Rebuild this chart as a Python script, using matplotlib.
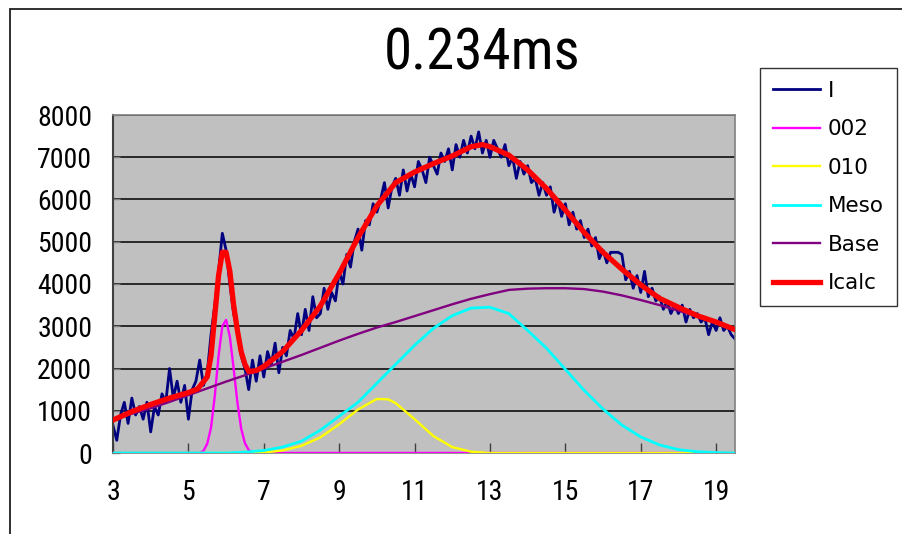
import matplotlib
matplotlib.use("Agg")
import matplotlib.pyplot as plt
from matplotlib import font_manager
from matplotlib.font_manager import FontProperties
from matplotlib.patches import Rectangle


# measured intensity I (step 0.1 from 3.0 to 19.5)
I_X = [round(3.0 + 0.1 * i, 1) for i in range(166)]
I_Y = [
    650, 300, 900, 1200, 700, 1300, 900, 1100, 800, 1200,
    500, 1100, 900, 1400, 1200, 2000, 1300, 1700, 1200, 1600,
    800, 1500, 1700, 2200, 1600, 1900, 2800, 3500, 4300, 5200,
    4800, 4000, 3300, 2900, 2300, 2000, 1500, 2200, 1700, 2300,
    1800, 2400, 2100, 2600, 1900, 2500, 2300, 2900, 2700, 3300,
    2800, 3400, 2900, 3700, 3200, 3300, 3900, 3400, 3800, 3600,
    4300, 4000, 4700, 4400, 5000, 5300, 4800, 5500, 5400, 5900,
    5700, 6000, 6400, 5800, 6300, 6500, 6100, 6700, 6200, 6600,
    6300, 6900, 6700, 6400, 7000, 6800, 6600, 7100, 6900, 7200,
    6700, 7300, 7000, 7400, 7100, 7500, 7200, 7600, 7100, 7400,
    7000, 7400, 7200, 7000, 7300, 6800, 7000, 6500, 6900, 6600,
    6800, 6400, 6500, 6100, 6400, 6100, 6300, 5700, 6000, 5600,
    5900, 5400, 5700, 5300, 5500, 5100, 5300, 4900, 5100, 4600,
    4800, 4500, 4750, 4750, 4750, 4700, 4100, 4300, 3900, 4200,
    3800, 4300, 3700, 3900, 3600, 3700, 3400, 3600, 3300, 3500,
    3300, 3500, 3100, 3400, 3200, 3300, 3100, 3200, 2800, 3100,
    2900, 3200, 2900, 3000, 2800, 2700,
]

# 002 peak
P002_X = [3.0, 5.3, 5.4, 5.5, 5.6, 5.7, 5.8, 5.9, 6.0, 6.1, 6.2, 6.3, 6.4,
          6.5, 6.6, 6.7, 6.8, 19.5]
P002_Y = [0, 0, 50, 220, 600, 1350, 2300, 3000, 3150, 2750, 2000, 1200, 580,
          230, 70, 10, 0, 0]

# 010 peak
P010_X = [3.0, 6.5, 7.0, 7.5, 8.0, 8.5, 9.0, 9.5, 10.0, 10.3, 10.5, 11.0,
          11.5, 12.0, 12.5, 13.0, 19.5]
P010_Y = [0, 0, 10, 60, 170, 370, 680, 1030, 1280, 1270, 1180, 800,
          400, 140, 30, 0, 0]

# mesophase
MESO_X = [3.0, 6.0, 6.5, 7.0, 7.5, 8.0, 8.5, 9.0, 9.5, 10.0, 10.5, 11.0,
          11.5, 12.0, 12.5, 13.0, 13.5, 14.0, 14.5, 15.0, 15.5, 16.0, 16.5,
          17.0, 17.5, 18.0, 18.5, 19.0, 19.5]
MESO_Y = [0, 0, 20, 60, 140, 280, 540, 870, 1200, 1650, 2100, 2550,
          2950, 3250, 3430, 3450, 3300, 2900, 2480, 1980, 1480, 1040, 660,
          380, 190, 80, 30, 10, 0]

# baseline
BASE_X = [3.0, 3.5, 4.0, 4.5, 5.0, 5.5, 6.0, 6.5, 7.0, 7.5, 8.0, 8.5, 9.0,
          9.5, 10.0, 10.5, 11.0, 11.5, 12.0, 12.5, 13.0, 13.5, 14.0, 14.5,
          15.0, 15.5, 16.0, 16.5, 17.0, 17.5, 18.0, 18.5, 19.0, 19.5]
BASE_Y = [780, 930, 1060, 1210, 1370, 1530, 1690, 1840, 2000, 2160, 2320,
          2490, 2660, 2820, 2970, 3100, 3240, 3380, 3520, 3650, 3760, 3860,
          3890, 3900, 3900, 3880, 3820, 3730, 3620, 3500, 3370, 3230, 3080,
          2910]

# fitted sum Icalc
CALC_X = [3.0, 3.5, 4.0, 4.5, 5.0, 5.25, 5.5, 5.6, 5.7, 5.8, 5.9, 6.0, 6.1,
          6.2, 6.3, 6.4, 6.5, 6.6, 6.8, 7.0, 7.5, 8.0, 8.5, 9.0, 9.5, 10.0,
          10.5, 11.0, 11.5, 12.0, 12.5, 12.8, 13.0, 13.5, 14.0, 14.5, 15.0,
          15.5, 16.0, 16.5, 17.0, 17.5, 18.0, 18.5, 19.0, 19.5]
CALC_Y = [780, 980, 1150, 1300, 1430, 1520, 1800, 2300, 3250, 4200, 4750,
          4750, 4300, 3500, 2900, 2400, 2100, 1930, 1950, 2050, 2400, 2900,
          3480, 4250, 5100, 5850, 6400, 6650, 6850, 7030, 7250, 7300, 7250,
          7050, 6700, 6260, 5750, 5220, 4750, 4350, 3980, 3660, 3450, 3250,
          3100, 2920]

X_TICKS = [3, 5, 7, 9, 11, 13, 15, 17, 19]
Y_TICKS = [0, 1000, 2000, 3000, 4000, 5000, 6000, 7000, 8000]


def find_narrow_font():
    # any condensed / narrow sans face that is installed
    best = None
    for f in font_manager.fontManager.ttflist:
        narrow = ("Narrow" in f.name or "Condensed" in f.name
                  or "ondensed" in str(f.stretch) or "Condensed" in f.fname)
        if not narrow or f.style != "normal":
            continue
        if str(f.weight) not in ("400", "normal", "regular", "book"):
            continue
        if "Mono" in f.name or "Serif" in f.name:
            continue
        best = f
        if "Liberation" in f.name:
            break
    return best


nf = find_narrow_font()
if nf is not None:
    NARROW = dict(fontproperties=FontProperties(fname=nf.fname, size=20))
    TITLE = FontProperties(fname=nf.fname, size=41)
else:
    NARROW = dict(fontproperties=FontProperties(family="DejaVu Sans", size=16))
    TITLE = FontProperties(family="DejaVu Sans", size=32)

W, H = 902, 534
fig = plt.figure(figsize=(W / 100, H / 100), dpi=100)
fig.patch.set_facecolor("white")

# outer chart frame, cut at right and bottom
fig.add_artist(Rectangle((10 / W, -0.1), 1.2, 1 - 9 / H + 0.1,
                         transform=fig.transFigure, fill=False,
                         edgecolor="#202020", linewidth=1.3))

ax = fig.add_axes([113 / W, 1 - 453 / H, (735 - 113) / W, (453 - 115) / H])
ax.set_facecolor("#C0C0C0")

for y in Y_TICKS[1:]:
    ax.axhline(y, color="black", linewidth=1.1, zorder=1)

ax.plot(I_X, I_Y, color="#000080", linewidth=2.0, label="I", zorder=2)
ax.plot(P002_X, P002_Y, color="#FF00FF", linewidth=1.7, label="002", zorder=3)
ax.plot(P010_X, P010_Y, color="#FFFF00", linewidth=1.7, label="010", zorder=3)
ax.plot(MESO_X, MESO_Y, color="#00FFFF", linewidth=2.0, label="Meso", zorder=3)
ax.plot(BASE_X, BASE_Y, color="#800080", linewidth=1.7, label="Base", zorder=3)
ax.plot(CALC_X, CALC_Y, color="#FF0000", linewidth=3.8, label="Icalc", zorder=4,
        solid_joinstyle="round")

ax.set_xlim(3, 19.5)
ax.set_ylim(0, 8000)
ax.set_xticks(X_TICKS)
ax.set_yticks(Y_TICKS)
ax.set_xticklabels([str(v) for v in X_TICKS], **NARROW)
ax.set_yticklabels([str(v) for v in Y_TICKS], **NARROW)
ax.tick_params(axis="x", direction="in", length=7, width=1, color="#404040", pad=19)
ax.tick_params(axis="y", direction="in", length=5, width=1, color="#808080", pad=15)

for side in ["top", "right", "bottom"]:
    ax.spines[side].set_color("#808080")
    ax.spines[side].set_linewidth(1.2)
ax.spines["left"].set_color("#404040")
ax.spines["left"].set_linewidth(1.5)

fig.text(482 / W, 1 - 54 / H, "0.234ms", ha="center", va="center",
         fontproperties=TITLE)

handles, labels = ax.get_legend_handles_labels()
leg = fig.legend(handles, labels, loc="upper left",
                 bbox_to_anchor=(760 / W, 1 - 68 / H), borderaxespad=0,
                 frameon=True, fancybox=False, edgecolor="black",
                 prop={"family": "DejaVu Sans", "size": 15.5},
                 handlelength=2.2, handletextpad=0.35, labelspacing=0.86,
                 borderpad=0.6)
leg.get_frame().set_linewidth(1.0)

fig.savefig("out.png", dpi=100)
